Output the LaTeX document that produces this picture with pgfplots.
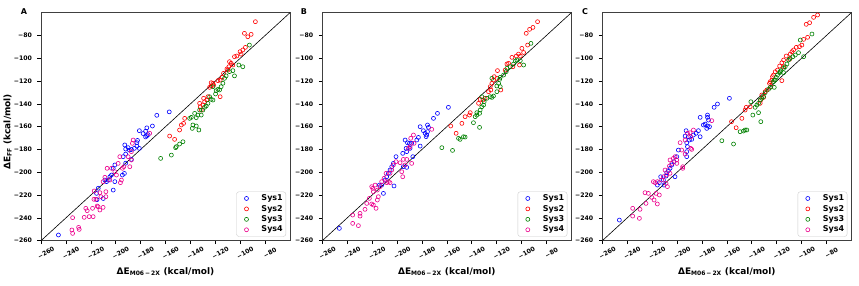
\documentclass[border=0pt]{standalone}
\usepackage{fontspec}
\setmainfont{DejaVu Sans}
\usepackage{pgfplots}
\pgfplotsset{compat=1.18}
\definecolor{mplgreen}{RGB}{0,128,0}
\pgfplotsset{
 panel/.style={
  scale only axis, width=249pt, height=228pt,
  xmin=-260,xmax=-60,ymin=-260,ymax=-60,
  xtick={-260,-240,-220,-200,-180,-160,-140,-120,-100,-80},
  ytick={-260,-240,-220,-200,-180,-160,-140,-120,-100,-80},
  xticklabels={−260,−240,−220,−200,−180,−160,−140,−120,−100,−80},
  yticklabels={−260,−240,−220,−200,−180,−160,−140,−120,−100,−80},
  tick pos=left, tick align=outside, major tick length=3.5pt,
  every tick/.style={black, line width=0.6pt},
  axis line style={black!75, line width=0.6pt},
  ticklabel style={font=\fontsize{6.2}{7}\selectfont\bfseries},
  xticklabel style={rotate=30, anchor=center, yshift=-10pt},
  yticklabel style={anchor=east, xshift=-2pt},
  xlabel={ΔE\textsubscript{M06\,−\,2X} (kcal/mol)},
  label style={font=\fontsize{9}{10}\selectfont\bfseries},
  xlabel style={at={(axis description cs:0.5,0)}, anchor=center, yshift=-31pt},
  legend cell align=left,
  legend image code/.code={\path[draw=none,fill=none] (0pt,-1pt) rectangle (22pt,1pt); \draw[#1,only marks] plot coordinates {(9pt,0pt)};},
  legend style={at={(1,0)}, anchor=south east, xshift=-4pt, yshift=4pt,
    draw=black!20, fill=white, rounded corners=2.5pt,
    font=\fontsize{8}{9.5}\selectfont\bfseries, inner xsep=1pt, inner ysep=1pt, row sep=-1pt},
 },
 s1/.style={only marks, mark=o, mark size=2pt, color=blue, mark options={line width=0.6pt}},
 s2/.style={only marks, mark=o, mark size=2pt, color=red, mark options={line width=0.6pt}},
 s3/.style={only marks, mark=o, mark size=2pt, color=mplgreen, mark options={line width=0.6pt}},
 s4/.style={only marks, mark=o, mark size=2pt, color=magenta, mark options={line width=0.6pt}},
 diag/.style={black, line width=0.6pt, forget plot},
}
\begin{document}
\begin{tikzpicture}
% ---------------- Panel A ----------------
\begin{axis}[panel, at={(41pt,45.3pt)}, anchor=south west,
  ylabel={ΔE\textsubscript{FF} (kcal/mol)},
  ylabel style={at={(axis description cs:-0.134,0.478)}, anchor=center}]
\addplot[diag] coordinates {(-260,-260) (-60,-60)};
\addplot[s1] coordinates {(-246,-255) (-167,-150) (-157,-147) (-170.5,-159.4) (-175,-161) (-176,-164) (-181,-163.5) (-178,-166) (-176,-169) (-175,-168) (-174,-167) (-182.5,-172) (-183,-174) (-183,-177) (-181,-179) (-185,-179) (-192.7,-176) (-190,-178.4) (-192,-179.6) (-189,-180.5) (-187.4,-180) (-187.4,-188.7) (-194,-186.3) (-192,-184) (-192,-192) (-193,-201) (-194.6,-202.4) (-200.7,-193.6) (-202,-196.5) (-203.4,-202.4) (-204.7,-203.9) (-206,-206.8) (-207.4,-208.2) (-208.7,-206.8) (-200.7,-208.2) (-202,-215.6) (-214,-214) (-215.4,-218.5) (-215,-224) (-210,-223)};
\addplot[s2] coordinates {(-87.8,-67.9) (-96.6,-78.1) (-91.2,-79) (-93.9,-81.1) (-95.8,-90.4) (-97.9,-92.7) (-100.1,-94.2) (-99.3,-96.3) (-102.7,-98) (-104.6,-98.6) (-108.6,-103) (-107.3,-104.4) (-105.9,-105.9) (-109.1,-107.4) (-110.7,-109.4) (-109.9,-110.3) (-113.4,-113.2) (-114.5,-116.7) (-116.1,-119.1) (-117.9,-119.6) (-121.9,-122) (-123.3,-121.4) (-121.4,-123.5) (-123.3,-124.3) (-124.6,-125.5) (-125.9,-133.7) (-126.8,-136.6) (-128.6,-138.1) (-130,-141) (-132.6,-139.5) (-132.1,-142.5) (-131.3,-145.4) (-116.1,-133.7) (-144.6,-152.7) (-145.5,-157.1) (-147.3,-158.5) (-148.7,-162.9) (-152.7,-171.1) (-156.7,-168.2) (-129.4,-135.1)};
\addplot[s3] coordinates {(-92.6,-88.4) (-101.1,-105.9) (-97.9,-107.4) (-104.6,-115.4) (-105.9,-110.8) (-108.6,-111.7) (-111.3,-115.4) (-113.9,-121.9) (-115.3,-124.9) (-117.9,-127.3) (-119.3,-128.4) (-119.8,-131.3) (-121.9,-136.6) (-123.3,-136) (-125.9,-139.5) (-127.3,-141.9) (-128.6,-143) (-130,-145.4) (-132.6,-145.4) (-131.3,-149.8) (-134,-149.8) (-136.6,-148.3) (-135.3,-152.1) (-139.3,-151.8) (-140.6,-152.7) (-138,-158.5) (-135.3,-159.4) (-133.2,-162.9) (-138.5,-161.5) (-146,-173.2) (-151.3,-177.5) (-151.9,-178.4) (-148.7,-175.2) (-155.3,-184.9) (-163.9,-187.8) (-124.6,-133.7) (-116.6,-127.8) (-121.9,-124.9) (-112.6,-117.6)};
\addplot[s4] coordinates {(-234.6,-253.6) (-235.2,-250.6) (-229.3,-250.1) (-229.8,-248.3) (-234.6,-239.8) (-225.3,-239.5) (-221.3,-238.9) (-224,-231.6) (-222.9,-233.7) (-218.6,-231.6) (-214.9,-229.6) (-218.1,-238.9) (-212.7,-233.1) (-214.1,-230.2) (-210.1,-230.8) (-217.5,-223.7) (-215.9,-223.7) (-211.9,-221.4) (-212.7,-217.9) (-207.9,-217) (-207.9,-221.4) (-217.3,-216.4) (-210.1,-208.2) (-208.7,-204.4) (-204.7,-206.8) (-206.9,-196.5) (-203.4,-196.5) (-200.7,-199.5) (-199.4,-202.4) (-198,-192.2) (-196.7,-186.3) (-193.5,-195.1) (-194.6,-196.5) (-188.7,-195.1) (-190,-186.3) (-187.4,-181.9) (-186,-171.7) (-186.6,-174.6) (-172.7,-165.8) (-187.4,-189.2) (-195.4,-206.8) (-196.2,-209.1)};
\legend{Sys1,Sys2,Sys3,Sys4}
\end{axis}
% ---------------- Panel B ----------------
\begin{axis}[panel, at={(322.3pt,45.3pt)}, anchor=south west]
\addplot[diag] coordinates {(-260,-260) (-60,-60)};
\addplot[s1] coordinates {(-246.3,-249.2) (-167.5,-148.3) (-158.7,-143) (-170.7,-152.7) (-181.4,-160) (-178.8,-163.5) (-177.4,-165.8) (-176.1,-167.3) (-175.5,-164.4) (-174.7,-160.6) (-175.5,-158.5) (-176.6,-168.7) (-182.8,-169.4) (-184.1,-171.7) (-181.4,-177) (-193.5,-171.7) (-191.6,-174.1) (-190,-174.6) (-192.7,-179) (-188.2,-174.6) (-189.5,-179) (-192.2,-181.9) (-187.3,-186.3) (-195.4,-183.4) (-194.9,-195.1) (-192.2,-195.7) (-200.8,-186.3) (-202.9,-192.2) (-204.2,-195.1) (-205.6,-198) (-206.9,-200.9) (-208.3,-203.9) (-209.6,-206.8) (-212.3,-211.2) (-210.9,-218.5) (-202.4,-212) (-214.2,-211.2)};
\addplot[s2] coordinates {(-87.1,-67.9) (-90.8,-72.9) (-93.5,-74.6) (-96.2,-78.1) (-95.1,-88.4) (-99.7,-91.3) (-98.3,-94.9) (-102.4,-96.3) (-101,-98) (-104.2,-98) (-107.7,-99.2) (-110.4,-104.4) (-111.7,-105) (-106.9,-107.4) (-113.1,-110.3) (-119.3,-110.8) (-119.8,-117.6) (-121.9,-116.1) (-122.5,-119.1) (-123.8,-122) (-125.1,-124.9) (-124.6,-127.8) (-126.5,-129.3) (-129.2,-135.1) (-131,-136.6) (-133.2,-136) (-134.5,-139.5) (-116.6,-127.8) (-141.2,-147.7) (-141.8,-149.8) (-145.3,-151.2) (-147.9,-157.1) (-152.5,-165.8) (-156.8,-159.4) (-101.6,-105.9)};
\addplot[s3] coordinates {(-92.4,-86.9) (-98.3,-105.9) (-101,-102.1) (-103.7,-101.5) (-105,-102.4) (-106.4,-105) (-109.1,-107.4) (-111.7,-108.8) (-112.3,-111.7) (-114.4,-114.7) (-117.1,-116.7) (-117.6,-118.5) (-118.4,-122) (-119.8,-124.3) (-117.1,-124.9) (-123.8,-117.6) (-122.5,-133.1) (-125.1,-133.7) (-127.8,-135.1) (-130,-138.1) (-130.5,-141) (-131.9,-142.5) (-133.2,-145.4) (-133.7,-148.3) (-135.9,-149.8) (-137.2,-151.2) (-135.9,-147.7) (-138.6,-156.5) (-133.7,-160.6) (-146.6,-168.8) (-149.3,-171.1) (-150.6,-170.2) (-145.3,-169.1) (-164,-178.4) (-155.4,-180.8) (-119.8,-129.3) (-123.8,-134.3) (-131.9,-133.7)};
\addplot[s4] coordinates {(-235.6,-237.5) (-235.6,-244.8) (-231,-246.8) (-229.7,-238.4) (-229.7,-236) (-225.7,-232.5) (-224.3,-227.3) (-222.2,-222.9) (-220.3,-227.8) (-219,-228.7) (-216.8,-231.6) (-215.8,-224.3) (-215,-221.4) (-219,-217) (-219.5,-214.1) (-217.6,-211.2) (-215.8,-215.6) (-213.6,-212.6) (-212.3,-208.2) (-210.4,-205.3) (-208.8,-200.9) (-208.3,-209.1) (-206.9,-208.2) (-205.6,-200.9) (-204.2,-198) (-202.9,-193.6) (-200.8,-190.7) (-197.5,-191.6) (-194.9,-188.7) (-196.2,-199.5) (-195.4,-203.9) (-193.5,-193.6) (-192.2,-188.7) (-190.8,-179) (-189.5,-177.5) (-189,-170.2) (-186.8,-167.3) (-186.3,-174.6) (-172.1,-162.3) (-188.2,-192.2) (-205.6,-209.1) (-220.3,-212.6)};
\legend{Sys1,Sys2,Sys3,Sys4}
\end{axis}
% ---------------- Panel C ----------------
\begin{axis}[panel, at={(602.3pt,45.3pt)}, anchor=south west]
\addplot[diag] coordinates {(-260,-260) (-60,-60)};
\addplot[s1] coordinates {(-246.3,-241.9) (-157.9,-135.1) (-167.5,-140.1) (-170.2,-143) (-181.4,-151.8) (-175.5,-149.8) (-175.5,-151.8) (-174.7,-154.2) (-177.4,-157.7) (-176.1,-161.5) (-175.5,-159.4) (-178.8,-158.5) (-173.9,-160) (-182.8,-163.5) (-181.4,-168.8) (-184.7,-165.8) (-186.8,-167.3) (-192.7,-163.5) (-193.5,-168.2) (-190.8,-168.8) (-192.2,-174.1) (-190,-171.7) (-188.2,-171.1) (-191.6,-177.5) (-192.2,-181.9) (-192.2,-186.3) (-198.9,-180.5) (-200.2,-186.3) (-202.4,-190.7) (-204.2,-193.6) (-205.6,-196.5) (-206.9,-198.6) (-208.3,-200.4) (-208.8,-203.3) (-210.9,-206.8) (-214.2,-209.1) (-215.8,-211.2) (-213.1,-203.9) (-201.6,-203.9) (-210.4,-211.2)};
\addplot[s2] coordinates {(-87.1,-62) (-90.3,-64.1) (-93.5,-68.8) (-96.2,-70.2) (-95.1,-81.6) (-98.3,-83.4) (-99.7,-88.4) (-101.6,-89.8) (-104.2,-90.4) (-106.4,-92.7) (-107.7,-94.2) (-109.1,-96.3) (-112.3,-98) (-109.6,-100.9) (-114.4,-101.5) (-115.8,-103.9) (-117.6,-106.8) (-119.3,-110.3) (-121.1,-111.8) (-122.5,-114.7) (-123.3,-116.1) (-123.8,-119.1) (-125.1,-120.5) (-125.7,-122) (-124.6,-124.9) (-127.8,-127.8) (-129.2,-129.3) (-131.9,-132.2) (-130.5,-134.3) (-132.7,-136.6) (-133.2,-139.5) (-115.8,-119.6) (-141.2,-142.5) (-144.4,-143) (-145.3,-145.4) (-147.9,-152.7) (-152.5,-160.9) (-156.2,-155.6) (-114.4,-107.4)};
\addplot[s3] coordinates {(-91.6,-78.7) (-101,-84) (-98.3,-98.6) (-102.4,-95.1) (-105,-97.1) (-106.9,-98.6) (-109.1,-100.1) (-110.4,-101.5) (-111.7,-105) (-113.1,-107.4) (-114.4,-108.8) (-116.6,-110.8) (-117.6,-112.6) (-119.3,-114.7) (-120.3,-116.7) (-121.1,-119.1) (-122.5,-120.5) (-117.1,-111.8) (-121.9,-125.5) (-125.1,-125.5) (-126.5,-127.2) (-129.2,-130.2) (-130.5,-133.7) (-131.9,-135.1) (-133.2,-136.6) (-134.5,-139.5) (-135.9,-141) (-140.7,-138.1) (-137.2,-143) (-139.1,-149.8) (-134.5,-147.7) (-132.7,-155.6) (-143.9,-162.9) (-146.6,-163.8) (-149.3,-164.4) (-145.3,-162.9) (-164,-172.3) (-154.6,-175.2) (-114.4,-112.6) (-121.9,-119.1)};
\addplot[s4] coordinates {(-235.6,-231.6) (-235.6,-238.4) (-229.7,-232.5) (-230.2,-240.4) (-224.9,-227.3) (-223,-218.5) (-225.7,-217.9) (-220.3,-222) (-218.4,-224.3) (-215.8,-227.8) (-216.8,-218.5) (-214.2,-219.9) (-219,-208.2) (-217.6,-209.1) (-215.8,-208.2) (-212.3,-206.8) (-210.9,-203.9) (-209.6,-198) (-208.3,-202.4) (-207.7,-212.6) (-208.8,-209.7) (-205.6,-200.9) (-205.6,-189.2) (-204.2,-192.2) (-202.9,-187.8) (-201.6,-186.3) (-200.2,-189.2) (-196.2,-180.5) (-195.4,-195.1) (-195.4,-196.5) (-197.5,-174) (-193.5,-171.7) (-191.6,-165.8) (-189.5,-165.3) (-189,-168.8) (-189,-179) (-188.2,-179.9) (-186.8,-162.9) (-172.1,-154.7) (-200.2,-192.2) (-193.5,-184) (-206.1,-194.5)};
\legend{Sys1,Sys2,Sys3,Sys4}
\end{axis}
\node[font=\fontsize{8}{9}\selectfont\bfseries] at (24pt,274pt) {A};
\node[font=\fontsize{8}{9}\selectfont\bfseries] at (304pt,274pt) {B};
\node[font=\fontsize{8}{9}\selectfont\bfseries] at (585pt,274pt) {C};
\pgfresetboundingbox
\path[use as bounding box] (0,0) rectangle (859pt,286pt);
\end{tikzpicture}
\end{document}
